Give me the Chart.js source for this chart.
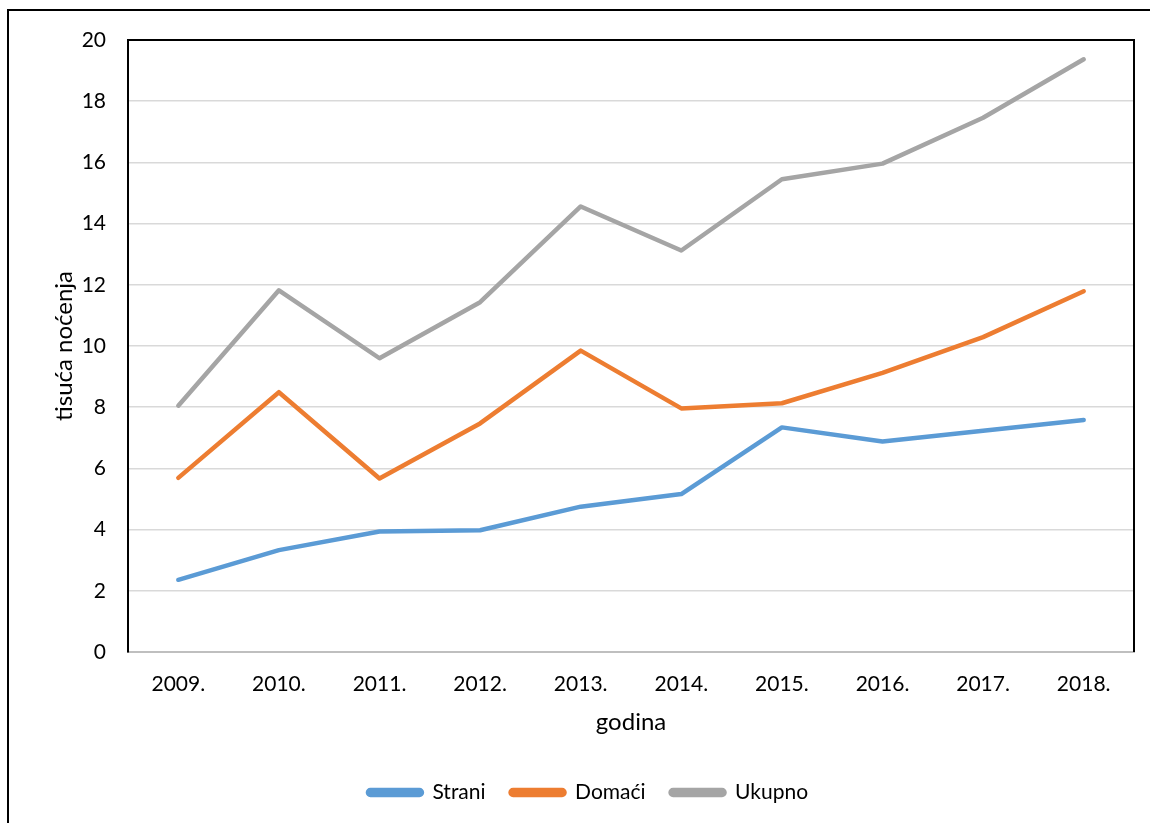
<!DOCTYPE html>
<html>
<head>
<meta charset="utf-8">
<script src="https://cdn.jsdelivr.net/npm/chart.js@4/dist/chart.umd.min.js"></script>
<style>
  html, body { margin: 0; padding: 0; background: #fff; }
  #wrap { width: 1150px; height: 823px; position: relative; }
</style>
</head>
<body>
<div id="wrap"><canvas id="grafikon" width="1150" height="823"></canvas></div>
<script>
// podaci očitani s grafikona (tisuća noćenja)
const godine = ['2009.', '2010.', '2011.', '2012.', '2013.', '2014.', '2015.', '2016.', '2017.', '2018.'];
const strani = [2.36, 3.33, 3.94, 3.98, 4.75, 5.16, 7.34, 6.88, 7.23, 7.58];
const domaci = [5.69, 8.49, 5.67, 7.47, 9.85, 7.96, 8.13, 9.12, 10.29, 11.79];
const ukupno = [8.05, 11.82, 9.60, 11.43, 14.56, 13.12, 15.45, 15.96, 17.46, 19.37];

const font = 'Lato, "Open Sans", sans-serif';

// okvir oko cijele slike i okvir oko područja grafa
const okviri = {
    id: 'okviri',
    beforeDraw(chart) {
        const c = chart.ctx;
        c.save();
        c.strokeStyle = '#000';
        c.lineWidth = 2;
        c.beginPath();
        c.moveTo(8, 823);
        c.lineTo(8, 10);
        c.lineTo(1150, 10);
        c.stroke();
        c.restore();
    },
    afterDraw(chart) {
        const a = chart.chartArea;
        const c = chart.ctx;
        c.save();
        c.strokeStyle = '#000';
        c.lineWidth = 2;
        c.beginPath();
        c.moveTo(a.left, a.top);
        c.lineTo(a.right, a.top);
        c.lineTo(a.right, a.bottom);
        c.stroke();
        c.restore();
    }
};

function serija(naziv, podaci, boja) {
    return {
        label: naziv,
        data: podaci,
        borderColor: boja,
        backgroundColor: boja,
        borderWidth: 4.5,
        borderCapStyle: 'round',
        borderJoinStyle: 'round',
        pointRadius: 0,
        tension: 0,
        fill: false
    };
}

new Chart(document.getElementById('grafikon'), {
    type: 'line',
    data: {
        labels: godine,
        datasets: [
            serija('Strani', strani, '#5b9bd5'),
            serija('Domaći', domaci, '#ed7d31'),
            serija('Ukupno', ukupno, '#a5a5a5')
        ]
    },
    options: {
        responsive: false,
        animation: false,
        events: [],
        layout: { padding: { top: 40, right: 16, left: 42, bottom: 10 } },
        plugins: {
            tooltip: { enabled: false },
            legend: {
                position: 'bottom',
                labels: {
                    color: '#000',
                    font: { family: font, size: 21 },
                    boxWidth: 54,
                    boxHeight: 5,
                    padding: 25,
                    useBorderRadius: true,
                    borderRadius: 2.5
                }
            }
        },
        scales: {
            x: {
                offset: true,
                afterFit: s => { s.height = 105; },
                border: { color: '#bfbfbf', width: 2 },
                grid: { display: false, offset: true },
                ticks: { color: '#000', font: { family: font, size: 21 }, padding: 12, maxRotation: 0 },
                title: {
                    display: true,
                    text: 'godina',
                    color: '#000',
                    font: { family: font, size: 24 },
                    padding: { top: 4, bottom: 20 }
                }
            },
            y: {
                min: 0,
                max: 20,
                afterFit: s => { s.width = 86; },
                border: { color: '#000', width: 2 },
                grid: { color: '#d9d9d9', lineWidth: 1.5, drawTicks: false },
                ticks: { stepSize: 2, color: '#000', font: { family: font, size: 21 }, padding: 22 },
                title: {
                    display: true,
                    text: 'tisuća noćenja',
                    color: '#000',
                    font: { family: font, size: 24 },
                    padding: { top: 8, bottom: 0 }
                }
            }
        }
    },
    plugins: [okviri]
});
</script>
</body>
</html>
